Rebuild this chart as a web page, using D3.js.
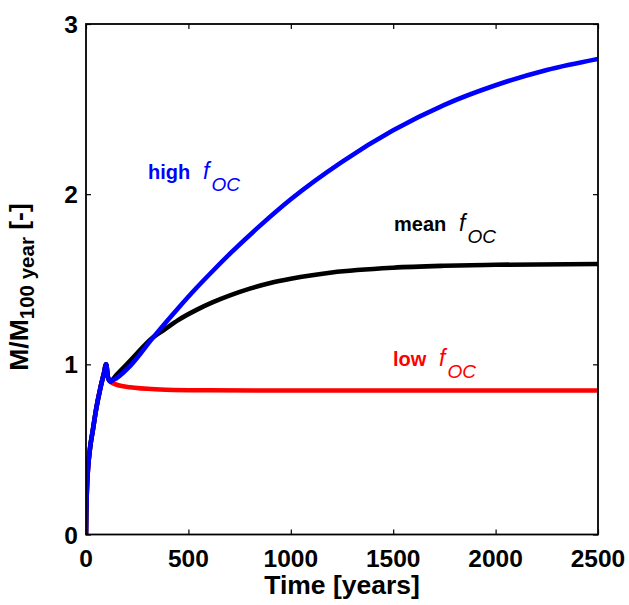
<!DOCTYPE html>
<html>
<head>
<meta charset="utf-8">
<script src="https://cdn.jsdelivr.net/npm/d3@7"></script>
<style>
  html, body { margin: 0; padding: 0; background: #fff; }
  svg { display: block; font-family: "Liberation Sans", Arial, Helvetica, sans-serif; }
</style>
</head>
<body>
<svg id="chart" width="629" height="605"></svg>
<script>
// ---- data ----
const xTicks = [0, 500, 1000, 1500, 2000, 2500];
const yTicks = [0, 1, 2, 3];

// shared initial build-up (first 100 years)
const riseYears  = [0, 1, 3, 6, 10, 20, 33, 50, 70, 88, 98];
const riseValues = [0, 0.1, 0.21, 0.31, 0.39, 0.51, 0.61, 0.74, 0.86, 0.95, 1.0];

const highYears  = [108, 118, 150, 215, 329, 450, 540, 620, 703, 850, 1000, 1250, 1500, 1750, 2000, 2250, 2500];
const highValues = [0.92, 0.9, 0.92, 0.99, 1.16, 1.33, 1.45, 1.55, 1.65, 1.815, 1.97, 2.19, 2.375, 2.525, 2.64, 2.73, 2.795];

const meanYears  = [108, 118, 150, 215, 329, 378, 450, 540, 620, 703, 800, 900, 1000, 1200, 1500, 1750, 2000, 2500];
const meanValues = [0.92, 0.9, 0.94, 1.02, 1.16, 1.2, 1.26, 1.32, 1.365, 1.405, 1.445, 1.478, 1.503, 1.54, 1.568, 1.579, 1.585, 1.59];

const lowYears  = [108, 118, 133, 215, 361, 500, 1000, 1500, 2000, 2500];
const lowValues = [0.92, 0.9, 0.888, 0.865, 0.852, 0.848, 0.846, 0.846, 0.846, 0.846];

const seriesNames  = ["low", "mean", "high"];
const seriesColors = ["#ff0000", "#000000", "#0000ff"];

// ---- layout ----
const svg = d3.select("#chart");
const L = 86, R = 598, T = 24, B = 534.5;
const x = d3.scaleLinear().domain([0, 2500]).range([L, R]);
const y = d3.scaleLinear().domain([0, 3]).range([B, T]);

function pts(yrs, vals) {
  const a = riseYears.map((t, i) => [t, riseValues[i]]);
  return a.concat(yrs.map((t, i) => [t, vals[i]]));
}
const data = {
  low: pts(lowYears, lowValues),
  mean: pts(meanYears, meanValues),
  high: pts(highYears, highValues)
};

const line = d3.line().x(d => x(d[0])).y(d => y(d[1])).curve(d3.curveMonotoneX);

svg.append("clipPath").attr("id", "clip")
  .append("rect").attr("x", L).attr("y", T - 3).attr("width", R - L).attr("height", B - T + 3);

seriesNames.forEach((n, i) => {
  svg.append("path")
    .datum(data[n])
    .attr("d", line)
    .attr("fill", "none")
    .attr("stroke", seriesColors[i])
    .attr("stroke-width", 4.6)
    .attr("stroke-linejoin", "round")
    .attr("clip-path", "url(#clip)");
});

// axes (ticks inside, mirrored)
const tk = 5;
const axB = svg.append("g").attr("transform", `translate(0,${B})`)
  .call(d3.axisBottom(x).tickValues(xTicks).tickSize(-tk).tickFormat(""));
const axT = svg.append("g").attr("transform", `translate(0,${T})`)
  .call(d3.axisTop(x).tickValues(xTicks).tickSize(-tk).tickFormat(""));
const axL = svg.append("g").attr("transform", `translate(${L},0)`)
  .call(d3.axisLeft(y).tickValues(yTicks).tickSize(-tk).tickFormat(""));
const axR = svg.append("g").attr("transform", `translate(${R},0)`)
  .call(d3.axisRight(y).tickValues(yTicks).tickSize(-tk).tickFormat(""));
[axB, axT, axL, axR].forEach(g => {
  g.select(".domain").remove();
  g.selectAll("line").attr("stroke", "#000").attr("stroke-width", 1.2);
});

svg.append("rect").attr("x", L).attr("y", T).attr("width", R - L).attr("height", B - T)
  .attr("fill", "none").attr("stroke", "#000").attr("stroke-width", 1.8);

// tick labels
svg.append("g").selectAll("text").data(xTicks).join("text")
  .attr("x", d => x(d)).attr("y", 567)
  .attr("text-anchor", "middle").attr("font-size", 24.5).attr("font-weight", "bold")
  .text(d => d);
svg.append("g").selectAll("text").data(yTicks).join("text")
  .attr("x", 78).attr("y", d => y(d) + 9)
  .attr("text-anchor", "end").attr("font-size", 24.5).attr("font-weight", "bold")
  .text(d => d);

// axis titles
svg.append("text").attr("x", (L + R) / 2).attr("y", 594)
  .attr("text-anchor", "middle").attr("font-size", 26.5).attr("font-weight", "bold")
  .text("Time [years]");

const yl = svg.append("text")
  .attr("transform", "translate(28,287) rotate(-90)")
  .attr("text-anchor", "middle").attr("font-size", 26.5).attr("font-weight", "bold");
yl.append("tspan").text("M/M");
yl.append("tspan").attr("font-size", 20.5).attr("dy", 6).text("100 year");
yl.append("tspan").attr("dy", -6).text(" [-]");

// curve annotations
function annot(xp, yp, word, color) {
  const t = svg.append("text").attr("x", xp).attr("y", yp).attr("fill", color).attr("font-size", 20);
  t.append("tspan").attr("font-weight", "bold").text(word);
  t.append("tspan").attr("font-style", "italic").attr("font-size", 23).text("\u00a0\u00a0f");
  t.append("tspan").attr("font-style", "italic").attr("font-size", 19).attr("dy", 12).attr("dx", 2).text("OC");
}
annot(148, 179, "high", "#0000ff");
annot(394, 231, "mean", "#000000");
annot(393, 366, "low", "#ff0000");
</script>
</body>
</html>
